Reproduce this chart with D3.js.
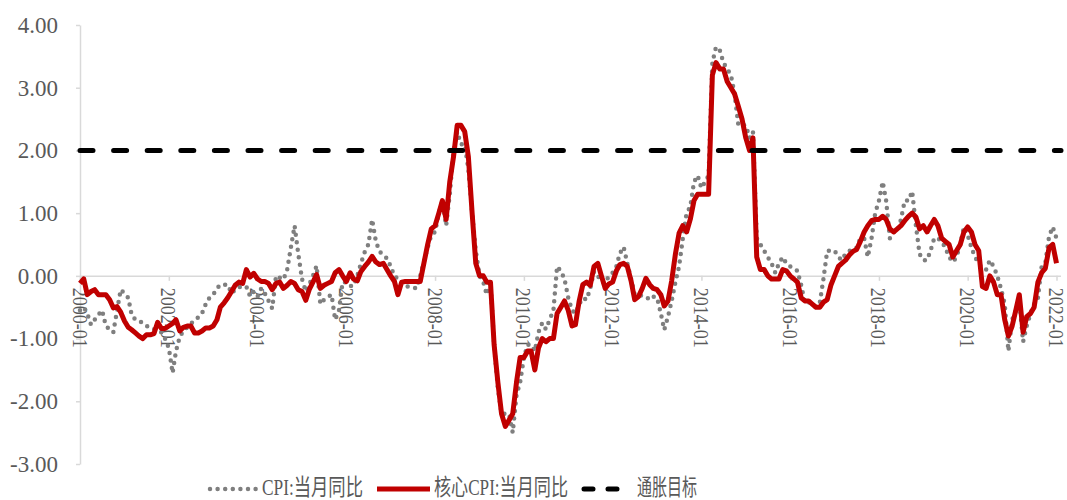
<!DOCTYPE html>
<html>
<head>
<meta charset="utf-8">
<script src="https://cdn.jsdelivr.net/npm/d3@7"></script>
<style>
  body { margin: 0; background: #fff; }
  svg { display: block; }
  text { font-family: "Liberation Serif", "Times New Roman", "Noto Sans CJK SC", serif; fill: #595959; }
</style>
</head>
<body>
<div id="chart-div"></div>
<script>
// Constants for the chart
const CHART_WIDTH = 1067;
const CHART_HEIGHT = 500;
const MARGIN = { left: 80, right: 10.5, top: 25, bottom: 36 };

// categories: monthly, 2000-01 .. 2022-01
const firstMonth = new Date(2000, 0, 1);
const lastMonth = new Date(2022, 0, 1);
const months = d3.timeMonth.range(firstMonth, d3.timeMonth.offset(lastMonth, 1));

// CPI: 当月同比 (%)
const cpiYoY = [
  -0.55, -0.5, -0.6, -0.78, -0.7, -0.62, -0.55, -0.8, -0.85, -0.9, -0.55, -0.22,   // 2000
  -0.28, -0.35, -0.62, -0.7, -0.72, -0.75, -0.8, -0.82, -0.85, -0.87, -0.9, -1.0,  // 2001
  -1.15, -1.55, -1.2, -0.97, -0.88, -0.82, -0.76, -0.72, -0.66, -0.6, -0.45, -0.35, // 2002
  -0.3, -0.2, -0.14, -0.14, -0.14, -0.28, -0.22, -0.18, -0.17, -0.17, -0.33, -0.25, // 2003
  -0.33, -0.2, -0.28, -0.4, -0.52, 0.0, -0.03, -0.06, 0.1, 0.45, 0.8, 0.35,        // 2004
  -0.05, -0.25, -0.14, 0.0, 0.16, -0.45, -0.38, -0.34, -0.3, -0.7, -0.55, -0.1,     // 2005
  -0.1, -0.16, -0.16, 0.0, 0.2, 0.38, 0.5, 0.9, 0.55, 0.39, 0.33, 0.28,             // 2006
  0.15, -0.01, -0.04, -0.1, -0.17, -0.17, -0.18, -0.2, 0.0, 0.23, 0.45, 0.65,       // 2007
  0.7, 1.0, 1.2, 0.8, 1.3, 2.0, 2.3, 2.1, 2.1, 1.7, 1.0, 0.4,                       // 2008
  0.0, -0.1, -0.3, -0.1, -1.1, -1.8, -2.2, -2.2, -2.2, -2.5, -1.9, -1.7,            // 2009
  -1.3, -1.1, -1.1, -1.2, -0.9, -0.75, -0.85, -0.7, -0.55, 0.15, 0.08, -0.05,       // 2010
  -0.35, -0.55, -0.6, -0.45, -0.35, -0.38, -0.2, 0.07, 0.0, -0.09, -0.12, 0.0,      // 2011
  0.05, 0.15, 0.36, 0.46, 0.2, -0.05, -0.3, -0.3, -0.32, -0.33, -0.38, -0.33,       // 2012
  -0.35, -0.6, -0.86, -0.65, -0.4, -0.1, 0.15, 0.6, 1.0, 1.1, 1.5, 1.6,            // 2013
  1.4, 1.5, 1.6, 3.4, 3.65, 3.6, 3.4, 3.3, 3.2, 2.9, 2.4, 2.4,                      // 2014
  2.4, 2.2, 2.3, 0.6, 0.5, 0.4, 0.3, 0.2, 0.05, 0.2, 0.3, 0.2,                      // 2015
  0.15, 0.12, 0.08, -0.15, -0.43, -0.42, -0.45, -0.5, -0.43, -0.05, 0.4, 0.4,       // 2016
  0.4, 0.3, 0.25, 0.35, 0.4, 0.4, 0.45, 0.6, 0.6, 0.3, 0.6, 1.0,                    // 2017
  1.2, 1.5, 1.2, 0.6, 0.7, 0.7, 0.9, 1.2, 1.2, 1.35, 0.8, 0.35,                     // 2018
  0.25, 0.25, 0.4, 0.6, 0.6, 0.55, 0.45, 0.3, 0.22, 0.3, 0.5, 0.78,                 // 2019
  0.65, 0.45, 0.3, 0.2, 0.12, 0.1, 0.25, 0.15, 0.0, -0.2, -0.45, -1.2,              // 2020
  -0.7, -0.55, -0.4, -1.05, -0.8, -0.6, -0.45, -0.35, 0.15, 0.2, 0.63, 0.78,        // 2021
  0.6                                                                               // 2022
];

// 核心CPI: 当月同比 (%)
const coreCpiYoY = [
  -0.12, -0.05, -0.3, -0.25, -0.22, -0.3, -0.3, -0.3, -0.38, -0.51, -0.49, -0.58,   // 2000
  -0.72, -0.82, -0.86, -0.91, -0.96, -1.0, -0.94, -0.94, -0.92, -0.74, -0.84, -0.84, // 2001
  -0.8, -0.76, -0.7, -0.88, -0.82, -0.8, -0.8, -0.91, -0.91, -0.88, -0.83, -0.83,   // 2002
  -0.8, -0.7, -0.5, -0.43, -0.35, -0.25, -0.15, -0.1, -0.12, 0.1, -0.02, 0.04,      // 2003
  -0.05, -0.09, -0.09, -0.12, -0.22, -0.12, -0.1, -0.2, -0.15, -0.09, -0.12, -0.22, // 2004
  -0.25, -0.39, -0.22, -0.1, 0.02, -0.2, -0.15, -0.12, -0.09, 0.05, 0.1, 0.0,       // 2005
  -0.09, 0.05, -0.05, -0.08, 0.07, 0.15, 0.22, 0.31, 0.22, 0.18, 0.2, 0.1,          // 2006
  0.0, -0.09, -0.3, -0.1, -0.09, -0.09, -0.09, -0.09, -0.09, 0.2, 0.5, 0.75,        // 2007
  0.8, 1.0, 1.2, 0.9, 1.5, 1.9, 2.4, 2.4, 2.3, 1.9, 1.0, 0.2,                       // 2008
  0.0, 0.0, -0.1, -0.1, -1.1, -1.7, -2.2, -2.4, -2.3, -2.2, -1.7, -1.3,             // 2009
  -1.3, -1.2, -1.2, -1.5, -1.15, -1.0, -1.05, -1.0, -1.0, -0.6, -0.5, -0.4,         // 2010
  -0.55, -0.8, -0.78, -0.4, -0.14, -0.1, -0.15, 0.15, 0.2, 0.0, -0.2, -0.13,        // 2011
  -0.1, 0.08, 0.18, 0.2, 0.15, -0.08, -0.38, -0.33, -0.2, -0.04, -0.14, -0.2,       // 2012
  -0.22, -0.3, -0.48, -0.4, -0.08, 0.35, 0.68, 0.8, 0.7, 0.9, 1.2, 1.3,             // 2013
  1.3, 1.3, 1.3, 3.2, 3.4, 3.3, 3.3, 3.1, 3.0, 2.9, 2.7, 2.5,                       // 2014
  2.2, 2.0, 2.2, 0.3, 0.1, 0.1, 0.0, -0.05, -0.05, -0.05, 0.1, 0.08,                // 2015
  0.0, -0.05, -0.1, -0.35, -0.4, -0.4, -0.45, -0.5, -0.5, -0.42, -0.38, -0.15,      // 2016
  0.0, 0.15, 0.2, 0.25, 0.33, 0.39, 0.42, 0.55, 0.7, 0.8, 0.88, 0.9,                // 2017
  0.9, 0.95, 0.9, 0.75, 0.7, 0.75, 0.8, 0.88, 0.95, 1.0, 0.94, 0.75,                // 2018
  0.8, 0.7, 0.8, 0.9, 0.8, 0.6, 0.55, 0.5, 0.3, 0.4, 0.5, 0.7,                      // 2019
  0.78, 0.7, 0.5, 0.4, -0.17, -0.2, 0.0, -0.1, -0.3, -0.3, -0.7, -0.96,             // 2020
  -0.8, -0.54, -0.3, -0.9, -0.65, -0.6, -0.5, -0.1, 0.05, 0.12, 0.45, 0.5,          // 2021
  0.2                                                                               // 2022
];

// 通胀目标
const inflationTarget = 2;

const yTicks = [-3, -2, -1, 0, 1, 2, 3, 4];
const xTickLabels = ["2000-01", "2002-01", "2004-01", "2006-01", "2008-01", "2010-01",
  "2012-01", "2014-01", "2016-01", "2018-01", "2020-01", "2022-01"];

const legendLabels = ["CPI:当月同比", "核心CPI:当月同比", "通胀目标"];

const GRAY = '#7f7f7f';
const RED = '#c00000';
const AXIS_COLOR = '#d9d9d9';

const svg = d3.select('#chart-div')
  .append('svg')
  .attr('width', CHART_WIDTH)
  .attr('height', CHART_HEIGHT);

const x = d3.scaleTime()
  .domain([firstMonth, lastMonth])
  .range([MARGIN.left, CHART_WIDTH - MARGIN.right]);

const y = d3.scaleLinear()
  .domain([-3, 4])
  .range([CHART_HEIGHT - MARGIN.bottom, MARGIN.top]);

const parseMonth = d3.timeParse('%Y-%m');

// y axis
const yAxis = svg.append('g')
  .attr('id', 'y-axis')
  .attr('transform', `translate(${MARGIN.left},0)`)
  .call(d3.axisLeft(y)
    .tickValues(yTicks)
    .tickSize(4)
    .tickSizeOuter(0)
    .tickPadding(18)
    .tickFormat(d => d.toFixed(2)));

yAxis.select('.domain').attr('stroke', AXIS_COLOR).attr('stroke-width', 1.5);
yAxis.selectAll('line').attr('stroke', AXIS_COLOR).attr('stroke-width', 1.5);
yAxis.selectAll('text')
  .style('font-size', '23px')
  .attr('fill', '#595959');

// x axis, drawn at y = 0
const xAxis = svg.append('g')
  .attr('id', 'x-axis')
  .attr('transform', `translate(0,${y(0)})`)
  .call(d3.axisBottom(x)
    .tickValues(xTickLabels.map(parseMonth))
    .tickSize(5)
    .tickSizeOuter(0)
    .tickFormat(d3.timeFormat('%Y-%m')));

xAxis.select('.domain')
  .attr('d', `M${MARGIN.left},0.5H${CHART_WIDTH - 6}`)
  .attr('stroke', AXIS_COLOR)
  .attr('stroke-width', 1.5);
xAxis.selectAll('line').attr('stroke', AXIS_COLOR).attr('stroke-width', 1.5);
xAxis.selectAll('text')
  .attr('x', 12)
  .attr('y', 0)
  .attr('dy', '0.4em')
  .attr('transform', 'rotate(90)')
  .attr('text-anchor', 'start')
  .attr('textLength', 60)
  .attr('lengthAdjust', 'spacingAndGlyphs')
  .style('font-size', '20px')
  .attr('fill', '#595959');

// lines
const lineGen = d3.line()
  .x((d, i) => x(months[i]))
  .y(d => y(d));

svg.append('path')
  .datum(cpiYoY)
  .attr('id', 'cpi-line')
  .attr('d', lineGen)
  .attr('fill', 'none')
  .attr('stroke', GRAY)
  .attr('stroke-width', 4.5)
  .attr('stroke-linecap', 'round')
  .attr('stroke-linejoin', 'round')
  .attr('stroke-dasharray', '0,7.6');

svg.append('path')
  .datum(coreCpiYoY)
  .attr('id', 'core-line')
  .attr('d', lineGen)
  .attr('fill', 'none')
  .attr('stroke', RED)
  .attr('stroke-width', 5)
  .attr('stroke-linejoin', 'round');

svg.append('line')
  .attr('id', 'target-line')
  .attr('x1', MARGIN.left)
  .attr('x2', CHART_WIDTH - 6)
  .attr('y1', y(inflationTarget))
  .attr('y2', y(inflationTarget))
  .attr('stroke', '#000')
  .attr('stroke-width', 5)
  .attr('stroke-linecap', 'round')
  .attr('stroke-dasharray', '13,20.6');

// legend
const legend = svg.append('g').attr('id', 'legend');
const LEGEND_Y = 489;
const BASELINE = 495;

legend.append('line')
  .attr('x1', 210).attr('x2', 256)
  .attr('y1', LEGEND_Y).attr('y2', LEGEND_Y)
  .attr('stroke', GRAY)
  .attr('stroke-width', 4.5)
  .attr('stroke-linecap', 'round')
  .attr('stroke-dasharray', '0,7.6');

legend.append('line')
  .attr('x1', 377).attr('x2', 430)
  .attr('y1', LEGEND_Y).attr('y2', LEGEND_Y)
  .attr('stroke', RED)
  .attr('stroke-width', 5);

legend.append('line')
  .attr('x1', 584).attr('x2', 620)
  .attr('y1', LEGEND_Y).attr('y2', LEGEND_Y)
  .attr('stroke', '#000')
  .attr('stroke-width', 5)
  .attr('stroke-linecap', 'round')
  .attr('stroke-dasharray', '9,15');

const legendText = [
  { x: 262, len: 101 },
  { x: 434, len: 134 },
  { x: 637, len: 60 }
];

legend.selectAll('text')
  .data(legendLabels)
  .join('text')
  .attr('x', (d, i) => legendText[i].x)
  .attr('y', BASELINE)
  .attr('textLength', (d, i) => legendText[i].len)
  .attr('lengthAdjust', 'spacingAndGlyphs')
  .style('font-size', '23px')
  .attr('fill', '#595959')
  .text(d => d);
</script>
</body>
</html>
